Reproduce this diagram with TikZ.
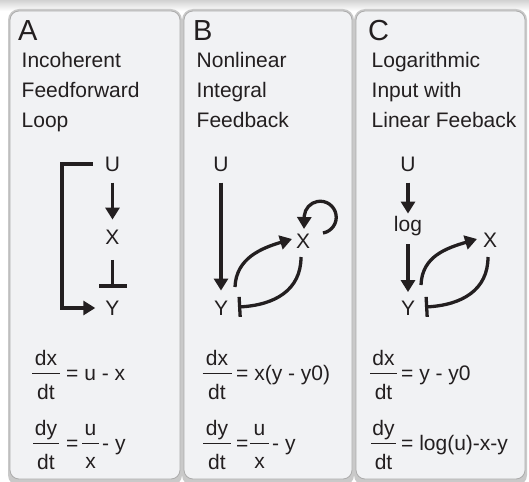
\documentclass[tikz,border=0pt]{standalone}
\usepackage{fontspec}
\setmainfont{Liberation Sans}
\usetikzlibrary{arrows.meta,calc}
\definecolor{ink}{HTML}{231F20}
\definecolor{panelfill}{HTML}{F1F2F4}
\newcommand{\lblfont}{\fontsize{21}{25}\selectfont}
\newcommand{\bigletterfont}{\fontsize{29}{33}\selectfont}
\tikzset{
  lbl/.style={font=\lblfont, text=ink, inner sep=0pt},
  panelbox/.style={fill=panelfill, draw=gray!65, line width=0.8pt, rounded corners=9pt},
  panelshadow/.style={fill=gray!42, rounded corners=11pt},
  arr/.style={draw=ink, line width=3.3pt, -{Triangle[width=14pt,length=12pt]}},
  inhA/.style={draw=ink, line width=3.3pt, -{Bar[width=28pt]}},
  inhC/.style={draw=ink, line width=3.3pt, -{Bar[width=20pt]}},
  fbar/.style={draw=ink, line width=0.9pt}
}
\begin{document}
\begin{tikzpicture}[x=1pt,y=-1pt]
\useasboundingbox (0,0) rectangle (529,481);
\fill[white] (0,0) rectangle (529,481);
\shade[top color=gray!35, bottom color=white] (0,0) rectangle (529,11);
% panels
\fill[panelshadow] (8,9) rectangle (182,486);
\fill[panelshadow] (182,9) rectangle (354,486);
\fill[panelshadow] (354,9) rectangle (527,486);
\filldraw[panelbox] (10,11) rectangle (180,479);
\filldraw[panelbox] (184,11) rectangle (352,479);
\filldraw[panelbox] (356,11) rectangle (525,479);

% titles
\node[lbl, font=\bigletterfont, anchor=base west] (tA) at (18,41) {A};
\node[lbl, font=\bigletterfont, anchor=base west] (tB) at (193,41) {B};
\node[lbl, font=\bigletterfont, anchor=base west] (tC) at (368,41) {C};
\node[lbl, anchor=base west] (a1) at (21.5,68) {Incoherent};
\node[lbl, anchor=base west] (a2) at (21.5,98) {Feedforward};
\node[lbl, anchor=base west] (a3) at (21.5,128) {Loop};
\node[lbl, anchor=base west] (b1) at (196.5,68) {Nonlinear};
\node[lbl, anchor=base west] (b2) at (196.5,98) {Integral};
\node[lbl, anchor=base west] (b3) at (196.5,128) {Feedback};
\node[lbl, anchor=base west] (c1) at (371.5,68) {Logarithmic};
\node[lbl, anchor=base west] (c2) at (371.5,98) {Input with};
\node[lbl, anchor=base west] (c3) at (371.5,128) {Linear Feeback};

% ---------- panel A diagram
\node[lbl] (uA) at (112.5,164) {U};
\node[lbl] (xA) at (112.5,237) {X};
\node[lbl] (yA) at (112.5,308) {Y};
\coordinate (cA) at (62,164);
\draw[arr, shorten <=11, shorten >=10] (uA.south) -- (xA.north);
\draw[inhA, shorten <=15.5, shorten >=13] (xA.south) -- (yA.north);
\draw[arr, shorten <=12, shorten >=10] (uA.west) -- (cA) -- (cA |- yA.west) -- (yA.west);

% ---------- panel B diagram
\node[lbl] (uB) at (221,164) {U};
\node[lbl] (yB) at (221,308) {Y};
\node[lbl] (xB) at (303,241) {X};
\draw[arr, shorten <=11, shorten >=10] (uB.south) -- (yB.north);
\draw[arr] ($(yB)+(14,-21)$) .. controls ($(yB)+(15,-50)$) and ($(xB)+(-41,7)$) .. ($(xB)+(-11,-2)$);
\draw[inhC] ($(xB)+(-2,16)$) .. controls ($(xB)+(-2,49)$) and ($(yB)+(54,-3)$) .. ($(yB)+(17,-1)$);
\draw[arr] ($(xB)+(20,-8)$) arc[start angle=80, end angle=-175, radius=16] -- ($(xB)+(1,-12)$);

% ---------- panel C diagram
\node[lbl] (uC) at (408,164) {U};
\node[lbl, anchor=base] (logC) at (408,231) {log};
\node[lbl] (yC) at (408,308) {Y};
\node[lbl] (xC) at (490,240) {X};
\draw[arr, shorten <=11, shorten >=2] (uC.south) -- (logC.north);
\draw[arr, shorten <=8.5, shorten >=8.5] (logC.south) -- (yC.north);
\draw[arr] ($(yC)+(13,-23)$) .. controls ($(yC)+(14,-52)$) and ($(xC)+(-43,8)$) .. ($(xC)+(-13,-1)$);
\draw[inhC] ($(xC)+(-2,17)$) .. controls ($(xC)+(-2,50)$) and ($(yC)+(54,-3)$) .. ($(yC)+(17,-1)$);

% ---------- equations A
\node[lbl, anchor=base] (nA1) at (46,365) {dx};
\draw[fbar] (32,373) -- (60,373);
\node[lbl, anchor=base] (dA1) at (46,399) {dt};
\node[lbl, anchor=base west] (rA1) at (66,380) {= u - x};
\node[lbl, anchor=base] (nA2) at (46,435) {dy};
\draw[fbar] (33,443) -- (59,443);
\node[lbl, anchor=base] (dA2) at (46,469) {dt};
\node[lbl, anchor=base west] (eA2) at (66,450) {=};
\node[lbl, anchor=base] (nA3) at (90.5,435) {u};
\draw[fbar] (82,443) -- (99,443);
\node[lbl, anchor=base] (dA3) at (90.5,468) {x};
\node[lbl, anchor=base west] (rA2) at (102,450) {- y};

% ---------- equations B
\node[lbl, anchor=base] (nB1) at (217,365) {dx};
\draw[fbar] (202.5,373) -- (231.5,373);
\node[lbl, anchor=base] (dB1) at (217,399) {dt};
\node[lbl, anchor=base west] (rB1) at (236,380) {= x(y - y0)};
\node[lbl, anchor=base] (nB2) at (217,435) {dy};
\draw[fbar] (203,443) -- (231,443);
\node[lbl, anchor=base] (dB2) at (217,469) {dt};
\node[lbl, anchor=base west] (eB2) at (236,450) {=};
\node[lbl, anchor=base] (nB3) at (259.5,435) {u};
\draw[fbar] (250,443) -- (269,443);
\node[lbl, anchor=base] (dB3) at (259.5,468) {x};
\node[lbl, anchor=base west] (rB2) at (272,450) {- y};

% ---------- equations C
\node[lbl, anchor=base] (nC1) at (383.5,365) {dx};
\draw[fbar] (370,373) -- (397,373);
\node[lbl, anchor=base] (dC1) at (383.5,399) {dt};
\node[lbl, anchor=base west] (rC1) at (401,380) {= y - y0};
\node[lbl, anchor=base] (nC2) at (383.5,435) {dy};
\draw[fbar] (371,443) -- (396,443);
\node[lbl, anchor=base] (dC2) at (383.5,469) {dt};
\node[lbl, anchor=base west] (rC2) at (401,450) {= log(u)-x-y};
\end{tikzpicture}
\end{document}
